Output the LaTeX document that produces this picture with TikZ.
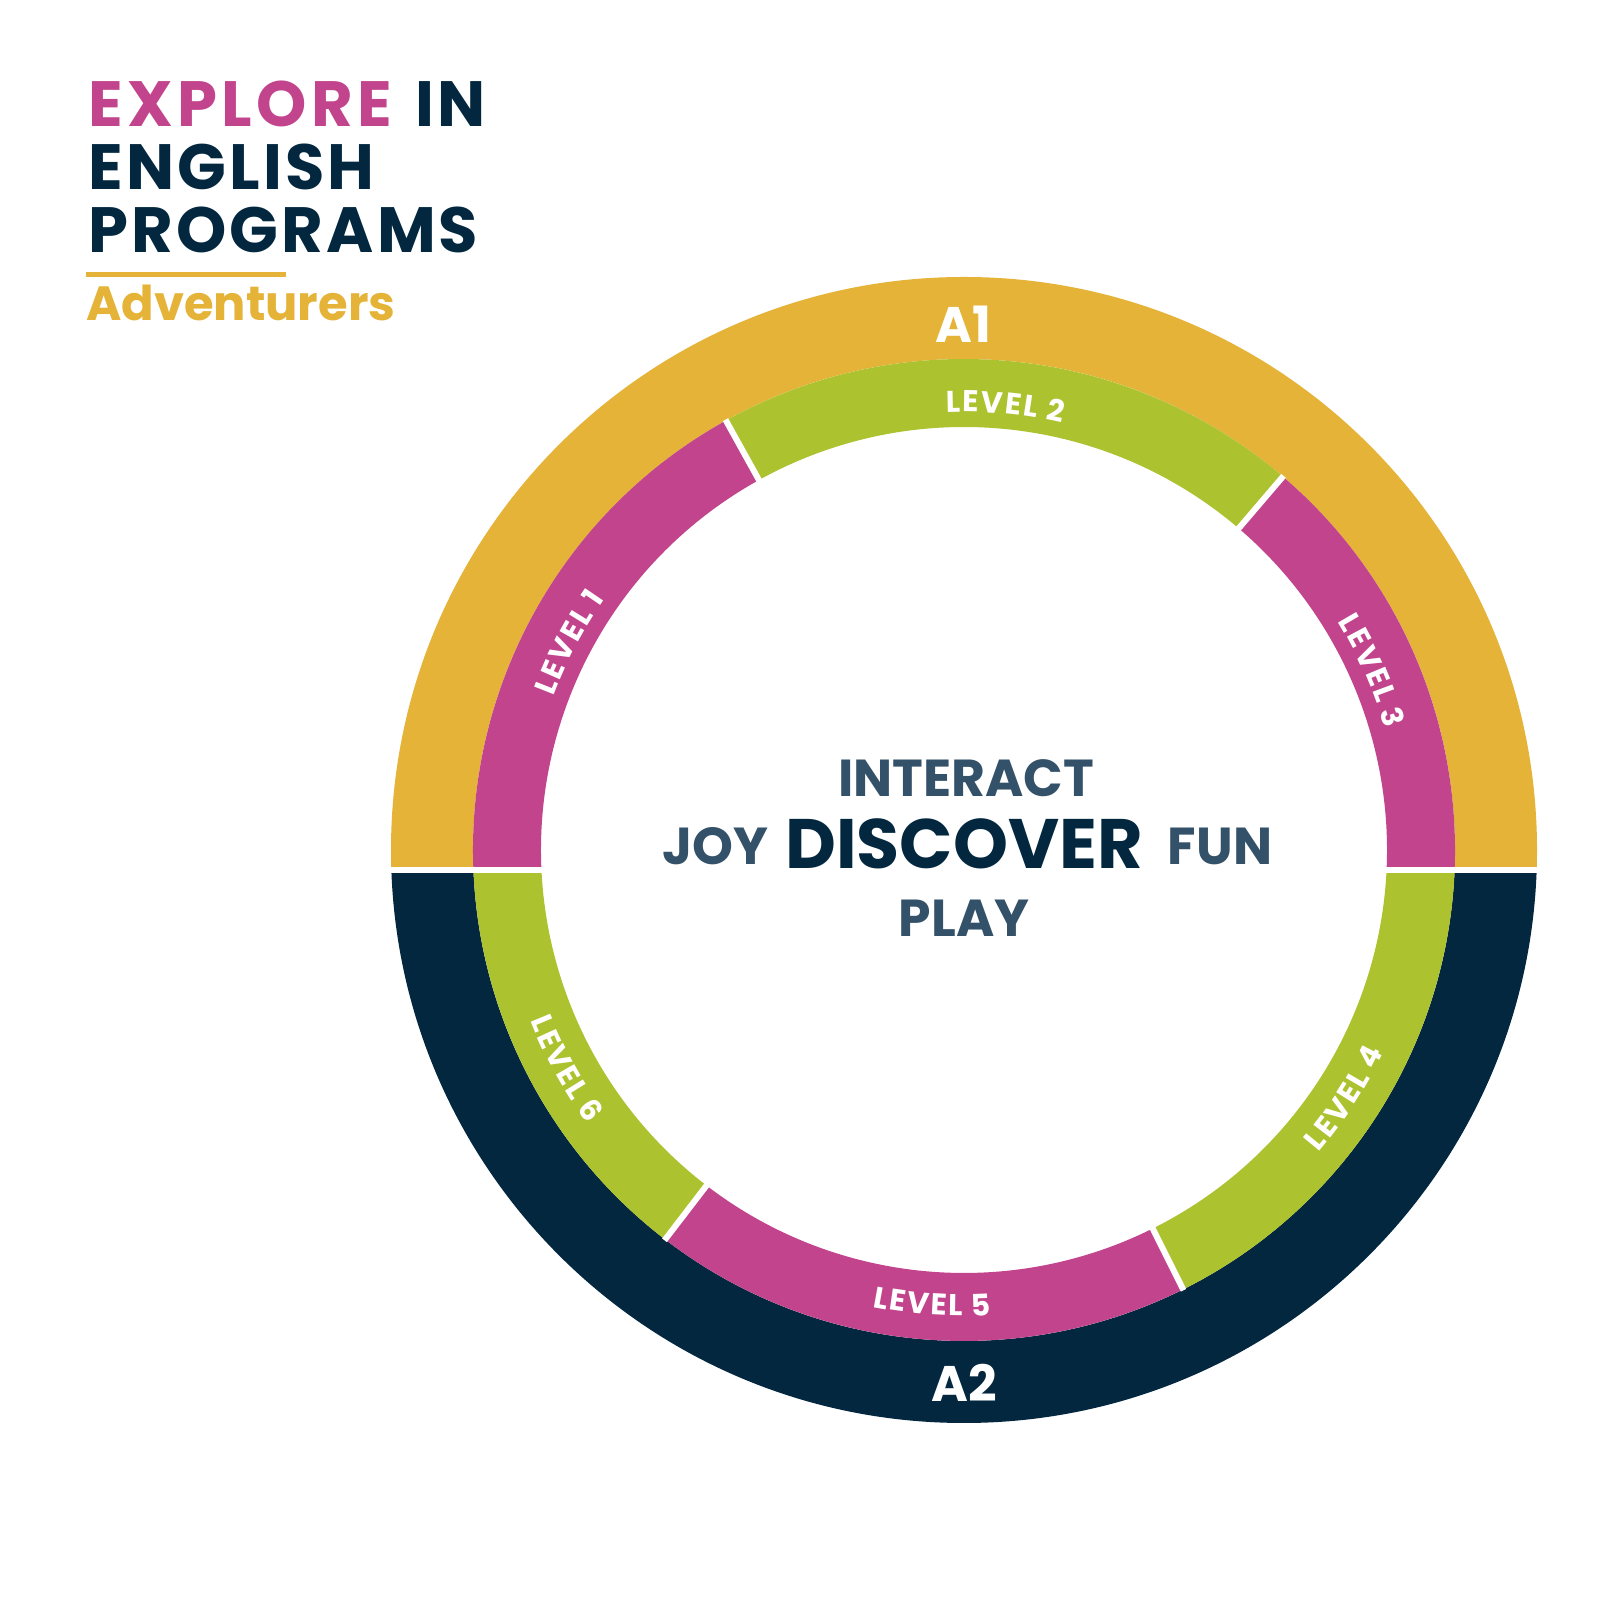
\documentclass[tikz,border=0pt]{standalone}
\usepackage{fontspec}
\setmainfont{Poppins}
\usetikzlibrary{decorations.text}
\begin{document}
\begin{tikzpicture}[x=1pt,y=1pt]
\definecolor{FFFFFF}{rgb}{1.00000,1.00000,1.00000}
\definecolor{E4B337}{rgb}{0.89412,0.70196,0.21569}
\definecolor{ADC22F}{rgb}{0.67843,0.76078,0.18431}
\definecolor{C2448D}{rgb}{0.76078,0.26667,0.55294}
\definecolor{02273F}{rgb}{0.00784,0.15294,0.24706}
\definecolor{33526A}{rgb}{0.20000,0.32157,0.41569}
\tikzset{
  titleline/.style={inner sep=0pt, anchor=base west, font=\bfseries\fontsize{64}{64}\selectfont\addfontfeatures{LetterSpace=5}, color=02273F},
  ringname/.style={inner sep=0pt, anchor=base, font=\bfseries\fontsize{50}{50}\selectfont, color=FFFFFF},
  bigword/.style={inner sep=0pt, anchor=base, font=\bfseries\fontsize{52}{52}\selectfont, color=33526A},
  levelpath/.style={decorate, decoration={text along path, text align=center, text color=FFFFFF,
    text={|\bfseries\fontsize{30}{30}\selectfont|#1}}}
}
\useasboundingbox (0,0) rectangle (1600,1600);
\fill[color=FFFFFF] (0,0) rectangle (1600,1600);
\begin{scope}
\clip (0,730) rectangle (1600,1600);
\fill[color=E4B337, even odd rule] (964,750) circle (573) (964,750) circle (491);
\end{scope}
\begin{scope}
\clip (0,0) rectangle (1600,730);
\fill[color=02273F, even odd rule] (964,750) circle (573) (964,750) circle (491);
\end{scope}
\foreach \col/\from/\to/\lo/\hi in {C2448D/119/190/730/1600, ADC22F/49.5/119/730/1600, C2448D/-10/49.5/730/1600,
  ADC22F/-63.5/10/0/730, C2448D/-127.5/-63.5/0/730, ADC22F/170/232.5/0/730}
{
\begin{scope}
\clip (0,\lo) rectangle (1600,\hi);
\fill[color=\col] ([shift={(\from:491)}]964,750) arc[start angle=\from, end angle=\to, radius=491]
  -- ([shift={(\to:423)}]964,750) arc[start angle=\to, end angle=\from, radius=423] -- cycle;
\end{scope}
}
\foreach \ang in {119,49.5,-63.5,232.5}
  \draw[color=FFFFFF, line width=6pt] ([shift={(\ang:420)}]964,750) -- ([shift={(\ang:492)}]964,750);
\fill[color=FFFFFF] (380,727) rectangle (1550,733);
\path[levelpath={{L\kern2pt}{E\kern2pt}{V\kern2pt}{E\kern2pt}{L\kern2pt} 1}] ([shift={(170.3:438)}]964,750) arc[start angle=170.3, end angle=134.3, radius=438];
\path[levelpath={{L\kern2pt}{E\kern2pt}{V\kern2pt}{E\kern2pt}{L\kern2pt} 2}] ([shift={(102.7:438)}]964,750) arc[start angle=102.7, end angle=66.7, radius=438];
\path[levelpath={{L\kern2pt}{E\kern2pt}{V\kern2pt}{E\kern2pt}{L\kern2pt} 3}] ([shift={(41.7:438)}]964,750) arc[start angle=41.7, end angle=5.7, radius=438];
\path[levelpath={{L\kern2pt}{E\kern2pt}{V\kern2pt}{E\kern2pt}{L\kern2pt} 4}] ([shift={(-51.1:466)}]964,750) arc[start angle=-51.1, end angle=-15.1, radius=466];
\path[levelpath={{L\kern2pt}{E\kern2pt}{V\kern2pt}{E\kern2pt}{L\kern2pt} 5}] ([shift={(-112:466)}]964,750) arc[start angle=-112, end angle=-76, radius=466];
\path[levelpath={{L\kern2pt}{E\kern2pt}{V\kern2pt}{E\kern2pt}{L\kern2pt} 6}] ([shift={(190.8:466)}]964,750) arc[start angle=190.8, end angle=226.8, radius=466];
\node[ringname] (aone) at (963,1257) {A1};
\node[ringname] (atwo) at (964,198) {A2};
\node[bigword] (interact) at (966,803) {INTERACT};
\node[bigword, font=\bfseries\fontsize{70}{70}\selectfont, color=02273F] (discover) at (964,731) {DISCOVER};
\node[bigword] (joy) at (715,735) {JOY};
\node[bigword] (fun) at (1220,735) {FUN};
\node[bigword] (play) at (964,663) {PLAY};
\node[titleline] (explore) at (88,1473) {\textcolor{C2448D}{\addfontfeatures{LetterSpace=7}EXPLORE}\hspace{6pt} IN};
\node[titleline] (english) at (88,1410) {ENGLISH};
\node[titleline] (programs) at (88,1347) {PROGRAMS};
\fill[color=E4B337] (86,1323) rectangle (286,1328);
\node[titleline, font=\bfseries\fontsize{48}{48}\selectfont, color=E4B337] (adventurers) at (86,1279) {Adventurers};
\end{tikzpicture}
\end{document}
